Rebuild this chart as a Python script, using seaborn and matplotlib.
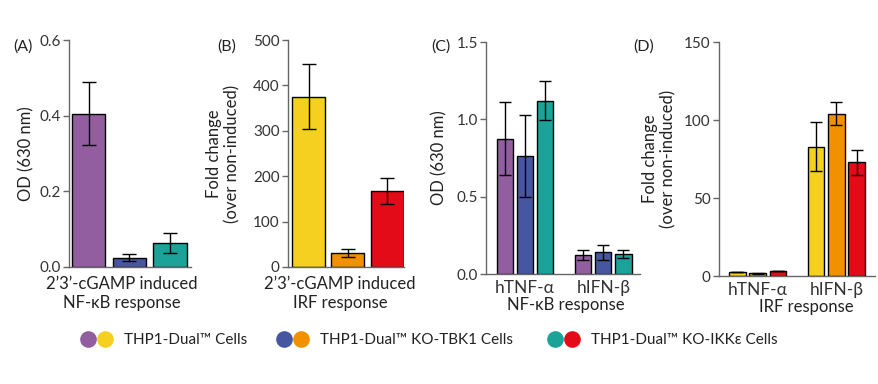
import numpy as np
import pandas as pd
import matplotlib
matplotlib.use("Agg")
import matplotlib.pyplot as plt
from matplotlib.lines import Line2D
from matplotlib.legend_handler import HandlerTuple
import seaborn as sns

# ── Data ────────────────────────────────────────────────
cells = ["THP1-Dual™ Cells", "THP1-Dual™ KO-TBK1 Cells", "THP1-Dual™ KO-IKKε Cells"]
targets = ["hTNF-α", "hIFN-β"]

a_mean = [0.405, 0.025, 0.063]
a_err = [0.083, 0.010, 0.026]

b_mean = [375, 30, 167]
b_err = [72, 9, 28]

c_tnf_mean = [0.875, 0.76, 1.12]
c_tnf_err = [0.235, 0.265, 0.125]
c_ifn_mean = [0.12, 0.14, 0.13]
c_ifn_err = [0.032, 0.05, 0.025]

d_tnf_mean = [2.4, 1.7, 3.2]
d_tnf_err = [0, 0.4, 0]
d_ifn_mean = [83, 104, 73]
d_ifn_err = [15.5, 7.5, 8]

NFKB_COLORS = ["#935EA0", "#4656A1", "#1BA39A"]
IRF_COLORS = ["#F5D020", "#F29100", "#E30B17"]

# ── Style ───────────────────────────────────────────────
sns.set_theme(style="ticks")
plt.rcParams["font.family"] = ["Lato", "DejaVu Sans"]
plt.rcParams["axes.edgecolor"] = "#666666"
plt.rcParams["xtick.color"] = "#666666"
plt.rcParams["ytick.color"] = "#666666"
plt.rcParams["xtick.labelcolor"] = "#333333"
plt.rcParams["ytick.labelcolor"] = "#333333"
plt.rcParams["axes.labelcolor"] = "#222222"
plt.rcParams["text.color"] = "#222222"

W, H = 879, 384
fig = plt.figure(figsize=(W / 100, H / 100), dpi=100)


def px_axes(l, r, b, t):
    return fig.add_axes([l / W, 1 - b / H, (r - l) / W, (b - t) / H])


def style(ax, ylim, yticks, fmt):
    sns.despine(ax=ax)
    ax.set_ylim(*ylim)
    ax.set_yticks(yticks)
    ax.set_yticklabels([fmt.format(v) for v in yticks])
    ax.tick_params(axis="y", length=4, width=1, labelsize=11, pad=2)
    ax.tick_params(axis="x", length=0, labelsize=12.5, pad=4)
    for s in ax.spines.values():
        s.set_linewidth(1)


def errbars(ax, errs, capsize):
    for cont, err in zip(ax.containers, errs):
        xs = [b.get_x() + b.get_width() / 2 for b in cont]
        ys = [b.get_height() for b in cont]
        ax.errorbar(xs, ys, yerr=err, fmt="none", ecolor="black",
                    elinewidth=1, capsize=capsize, capthick=1)


def xlabel_at(ax, text, x, y):
    ax.set_xlabel(text, fontsize=12)
    ax.xaxis.set_label_coords(x, y)
    ax.xaxis.label.set_va("top")


bar_kw = dict(errorbar=None, edgecolor="black", linewidth=1, saturation=1,
              legend=False)

# ── Panel A ─────────────────────────────────────────────
dfa = pd.DataFrame({"cell": cells, "od": a_mean})
ax = px_axes(69, 191, 267, 40)
sns.barplot(data=dfa, x="cell", y="od", hue="cell", palette=NFKB_COLORS,
            width=0.82, ax=ax, **bar_kw)
errbars(ax, [[e] for e in a_err], 5)
ax.set_xlim(-0.49, 2.52)
style(ax, (0, 0.6), [0, 0.2, 0.4, 0.6], "{:.1f}")
ax.set_xticks([])
xlabel_at(ax, "2’3’-cGAMP induced\nNF-κB response", 0.43, -0.04)
ax.set_ylabel("OD (630 nm)", fontsize=12)
ax.yaxis.set_label_coords(-0.28, 0.5)

# ── Panel B ─────────────────────────────────────────────
dfb = pd.DataFrame({"cell": cells, "fold": b_mean})
ax = px_axes(288, 404, 267, 40)
sns.barplot(data=dfb, x="cell", y="fold", hue="cell", palette=IRF_COLORS,
            width=0.835, ax=ax, **bar_kw)
errbars(ax, [[e] for e in b_err], 5)
ax.set_xlim(-0.52, 2.42)
style(ax, (0, 500), [0, 100, 200, 300, 400, 500], "{:.0f}")
ax.set_xticks([])
xlabel_at(ax, "2’3’-cGAMP induced\nIRF response", 0.45, -0.04)
ax.set_ylabel("Fold change\n(over non-induced)", fontsize=12)
ax.yaxis.set_label_coords(-0.41, 0.5)

# ── Panel C ─────────────────────────────────────────────
dfc = pd.DataFrame({
    "target": np.repeat(targets, 3),
    "cell": cells * 2,
    "od": c_tnf_mean + c_ifn_mean,
})
ax = px_axes(486, 640, 274, 42)
sns.barplot(data=dfc, x="target", y="od", hue="cell", palette=NFKB_COLORS,
            width=0.77, gap=0.18, ax=ax, **bar_kw)
errbars(ax, [[t, i] for t, i in zip(c_tnf_err, c_ifn_err)], 4)
ax.set_xlim(-0.5, 1.47)
style(ax, (0, 1.5), [0, 0.5, 1.0, 1.5], "{:.1f}")
xlabel_at(ax, "NF-κB response", 0.52, -0.1)
ax.set_ylabel("OD (630 nm)", fontsize=12)
ax.yaxis.set_label_coords(-0.25, 0.5)

# ── Panel D ─────────────────────────────────────────────
dfd = pd.DataFrame({
    "target": np.repeat(targets, 3),
    "cell": cells * 2,
    "fold": d_tnf_mean + d_ifn_mean,
})
ax = px_axes(719, 875, 276, 42)
sns.barplot(data=dfd, x="target", y="fold", hue="cell", palette=IRF_COLORS,
            width=0.77, gap=0.18, ax=ax, **bar_kw)
errbars(ax, [[t, i] for t, i in zip(d_tnf_err, d_ifn_err)], 4)
ax.set_xlim(-0.49, 1.49)
style(ax, (0, 150), [0, 50, 100, 150], "{:.0f}")
xlabel_at(ax, "IRF response", 0.56, -0.1)
ax.set_ylabel("Fold change\n(over non-induced)", fontsize=12)
ax.yaxis.set_label_coords(-0.27, 0.5)

# ── Panel letters ───────────────────────────────────────
for lbl, x in zip(["(A)", "(B)", "(C)", "(D)"], [13, 217, 431, 633]):
    fig.text(x / W, 1 - 47 / H, lbl, fontsize=11.5, ha="left", va="center")

# ── Legend: paired dots per cell line, one block each ───
for c1, c2, name, x0 in zip(NFKB_COLORS, IRF_COLORS, cells, [80, 276, 547]):
    h1 = Line2D([], [], marker="o", ls="", ms=12, color=c1, mec="none")
    h2 = Line2D([], [], marker="o", ls="", ms=12, color=c2, mec="none")
    fig.legend([(h1, h2)], [name],
               handler_map={tuple: HandlerTuple(ndivide=None, pad=0)},
               loc="center left", bbox_to_anchor=(x0 / W, 1 - 340 / H),
               frameon=False, handlelength=2.15, handletextpad=0.75,
               borderaxespad=0, borderpad=0, fontsize=11)

fig.savefig("out.png", dpi=100)
